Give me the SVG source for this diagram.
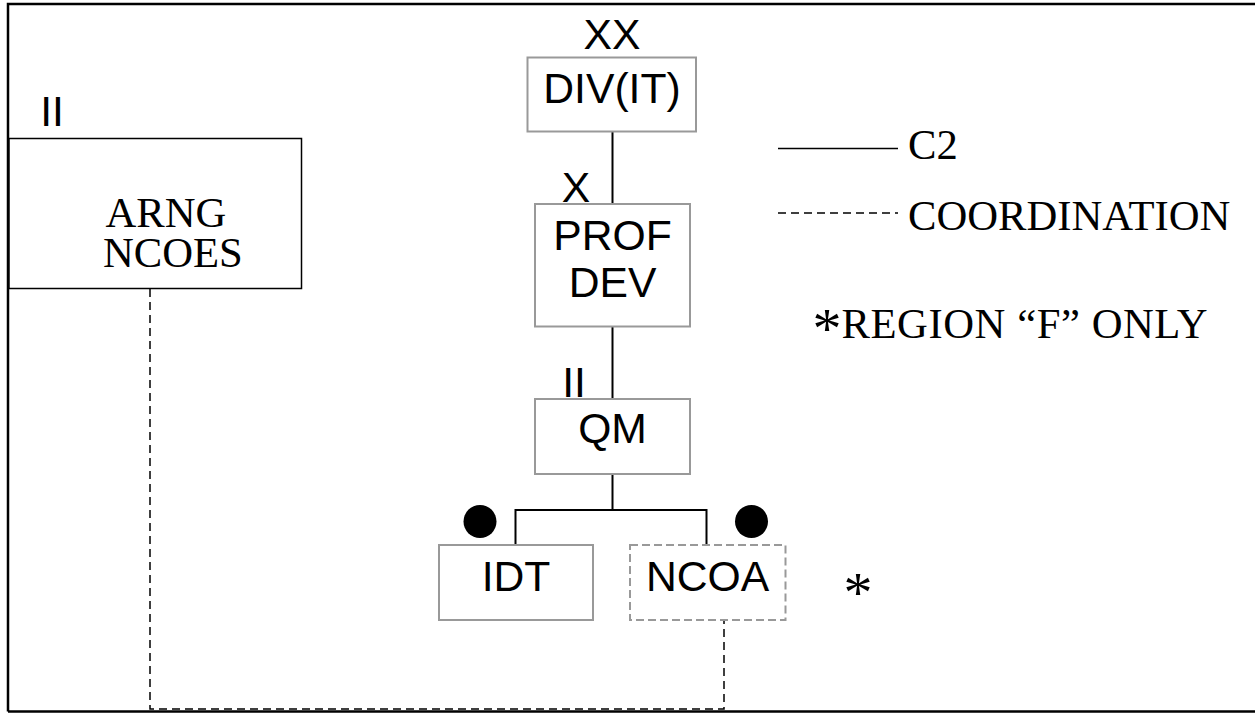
<svg xmlns="http://www.w3.org/2000/svg" width="1255" height="713" viewBox="0 0 1255 713">
<style>
.sans{font-family:"Liberation Sans",Arial,sans-serif;font-size:42.67px;fill:#000}
.serif{font-family:"Liberation Serif","Times New Roman",serif;font-size:42.67px;fill:#000}
.star{font-family:"Liberation Serif","Times New Roman",serif;font-size:58px;fill:#000}
.box{fill:#fff;stroke:#999;stroke-width:2}
.dbox{fill:#fff;stroke:#999;stroke-width:2;stroke-dasharray:8 4}
.solid{fill:none;stroke:#000;stroke-width:2}
.dash{fill:none;stroke:#000;stroke-width:1.5;stroke-dasharray:8 5}
</style>
<rect width="1255" height="713" fill="#fff"/>
<path d="M8,711.5 V4 H1256" fill="none" stroke="#000" stroke-width="2.5"/>
<line x1="8" y1="711.5" x2="1256" y2="711.5" stroke="#000" stroke-width="2.5"/>
<g id="connectors">
<line class="solid" x1="612.5" y1="131" x2="612.5" y2="204"/>
<line class="solid" x1="612.5" y1="327" x2="612.5" y2="399"/>
<path class="solid" d="M612.5,474 V510 M515.5,545 V510 H706.5 V545"/>
<path class="dash" d="M150,289 V709 H724 V620"/>
</g>
<g id="node-div">
<text class="sans" x="612" y="49" text-anchor="middle">XX</text>
<rect class="box" x="527.5" y="57.5" width="168.5" height="74"/>
<text class="sans" x="612" y="103" text-anchor="middle">DIV(IT)</text>
</g>
<g id="node-profdev">
<text class="sans" x="576" y="201.5" text-anchor="middle">X</text>
<rect class="box" x="535" y="204" width="155" height="122.5"/>
<text class="sans" x="612.5" y="250" text-anchor="middle">PROF</text>
<text class="sans" x="612.5" y="296.5" text-anchor="middle">DEV</text>
</g>
<g id="node-qm">
<text class="sans" x="574" y="396.5" text-anchor="middle">II</text>
<rect class="box" x="535" y="399" width="155" height="75"/>
<text class="sans" x="612.5" y="443" text-anchor="middle">QM</text>
</g>
<g id="node-idt">
<circle cx="480" cy="521.5" r="16.5" fill="#000"/>
<rect class="box" x="439" y="545" width="154" height="75"/>
<text class="sans" x="516" y="591" text-anchor="middle">IDT</text>
</g>
<g id="node-ncoa">
<circle cx="751.5" cy="521.5" r="16.5" fill="#000"/>
<rect class="dbox" x="630" y="545" width="155.5" height="75"/>
<text class="sans" x="707.5" y="591" text-anchor="middle">NCOA</text>
<text class="star" x="858" y="612" text-anchor="middle">*</text>
</g>
<g id="node-arng">
<text class="sans" x="52" y="126" text-anchor="middle">II</text>
<rect x="9" y="138.5" width="292.5" height="150" fill="#fff" stroke="#000" stroke-width="1.5"/>
<text class="serif" x="105.5" y="226.5">ARNG</text>
<text class="serif" x="103" y="267">NCOES</text>
</g>
<g id="legend">
<line x1="778" y1="148.5" x2="898" y2="148.5" stroke="#000" stroke-width="1.5"/>
<text class="serif" x="908" y="159">C2</text>
<line class="dash" x1="778" y1="213" x2="898" y2="213"/>
<text class="serif" x="908" y="230">COORDINATION</text>
<text class="star" x="827" y="348" text-anchor="middle">*</text>
<text class="serif" x="841.5" y="338" textLength="366" lengthAdjust="spacing">REGION “F” ONLY</text>
</g>
</svg>
